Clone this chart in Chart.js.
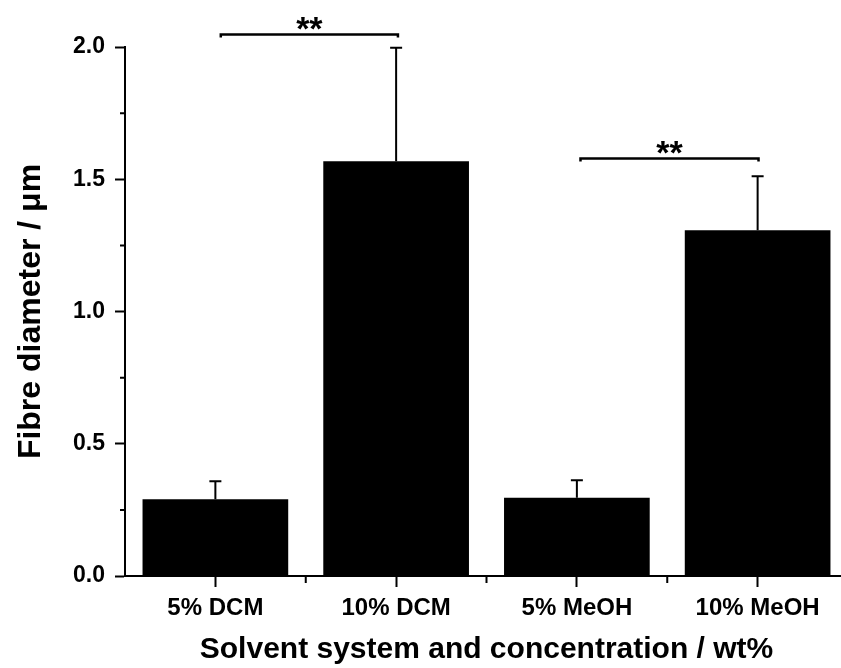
<!DOCTYPE html>
<html>
<head>
<meta charset="utf-8">
<script src="https://cdn.jsdelivr.net/npm/chart.js@4.4.1/dist/chart.umd.min.js"></script>
<style>
  html, body { margin: 0; padding: 0; background: #fff; overflow: hidden; }
  canvas { display: block; }
</style>
</head>
<body>
<canvas id="chart" width="860" height="668"></canvas>
<script>
// data
const categories = ['5% DCM', '10% DCM', '5% MeOH', '10% MeOH'];
const diameters = [0.290, 1.568, 0.296, 1.307];
const errors = [0.068, 0.429, 0.066, 0.204];
const yMinorTicks = [0.25, 0.75, 1.25, 1.75];

// significance brackets (category positions, y level in µm)
const sigFrom = [0.03, 2.02];
const sigTo = [1.01, 3.005];
const sigLevel = [2.047, 1.578];
const sigText = ['**', '**'];

const FONT = 'Arial, "Liberation Sans", Helvetica, sans-serif';

// error bars (upper only) + minor ticks + brackets
const extrasPlugin = {
    id: 'extras',
    afterDatasetsDraw(chart) {
        const ctx = chart.ctx;
        const y = chart.scales.y;
        const meta = chart.getDatasetMeta(0);
        ctx.save();
        ctx.strokeStyle = '#000';
        ctx.lineWidth = 2;
        meta.data.forEach((bar, i) => {
            const top = y.getPixelForValue(diameters[i] + errors[i]);
            ctx.beginPath();
            ctx.moveTo(bar.x, bar.y);
            ctx.lineTo(bar.x, top);
            ctx.moveTo(bar.x - 6, top);
            ctx.lineTo(bar.x + 6, top);
            ctx.stroke();
        });
        ctx.restore();
    },
    afterDraw(chart) {
        const ctx = chart.ctx;
        const x = chart.scales.x;
        const y = chart.scales.y;
        const area = chart.chartArea;
        ctx.save();
        ctx.strokeStyle = '#000';
        ctx.lineWidth = 2;

        // minor ticks
        ctx.beginPath();
        yMinorTicks.forEach(v => {
            const py = y.getPixelForValue(v);
            ctx.moveTo(area.left - 5, py);
            ctx.lineTo(area.left, py);
        });
        for (let i = 0; i < categories.length; i++) {
            const px = x.getPixelForValue(i + 0.5);
            ctx.moveTo(px, area.bottom);
            ctx.lineTo(px, area.bottom + 7);
        }
        ctx.stroke();

        // brackets
        ctx.font = 'bold 34px ' + FONT;
        ctx.fillStyle = '#000';
        ctx.textAlign = 'center';
        ctx.textBaseline = 'alphabetic';
        ctx.lineWidth = 2.5;
        sigFrom.forEach((f, i) => {
            const x1 = x.getPixelForValue(f);
            const x2 = x.getPixelForValue(sigTo[i]);
            const py = y.getPixelForValue(sigLevel[i]);
            ctx.beginPath();
            ctx.moveTo(x1, py + 3);
            ctx.lineTo(x1, py);
            ctx.lineTo(x2, py);
            ctx.lineTo(x2, py + 3);
            ctx.stroke();
            ctx.fillText(sigText[i], (x1 + x2) / 2, py + 5);
        });
        ctx.restore();
    }
};

new Chart(document.getElementById('chart'), {
    type: 'bar',
    data: {
        labels: categories,
        datasets: [{
            data: diameters,
            backgroundColor: '#000',
            borderWidth: 0,
            barPercentage: 0.806,
            categoryPercentage: 1.0
        }]
    },
    options: {
        responsive: false,
        animation: false,
        events: [],
        layout: { padding: { top: 47, right: 12, left: 0, bottom: 0 } },
        plugins: {
            legend: { display: false },
            tooltip: { enabled: false }
        },
        scales: {
            x: {
                afterFit: s => { s.height = 92; },
                grid: {
                    offset: false,
                    drawOnChartArea: false,
                    drawTicks: true,
                    tickLength: 11,
                    tickWidth: 2,
                    tickColor: '#000'
                },
                border: { display: true, color: '#000', width: 2 },
                ticks: {
                    color: '#000',
                    padding: 7,
                    font: { family: FONT, size: 24, weight: 'bold' }
                },
                title: {
                    display: true,
                    text: 'Solvent system and concentration / wt%',
                    color: '#000',
                    padding: 0,
                    font: { family: FONT, size: 30, weight: 'bold' }
                }
            },
            y: {
                min: 0,
                max: 2.0,
                afterFit: s => { s.width = 125; },
                grid: {
                    drawOnChartArea: false,
                    drawTicks: true,
                    tickLength: 10,
                    tickWidth: 2,
                    tickColor: '#000'
                },
                border: { display: true, color: '#000', width: 2 },
                ticks: {
                    stepSize: 0.5,
                    color: '#000',
                    padding: 10,
                    font: { family: FONT, size: 23, weight: 'bold' },
                    callback: v => v.toFixed(1)
                },
                title: {
                    display: true,
                    text: 'Fibre diameter / μm',
                    color: '#000',
                    padding: { top: 12 },
                    font: { family: FONT, size: 32, weight: 'bold' }
                }
            }
        }
    },
    plugins: [extrasPlugin]
});
</script>
</body>
</html>
